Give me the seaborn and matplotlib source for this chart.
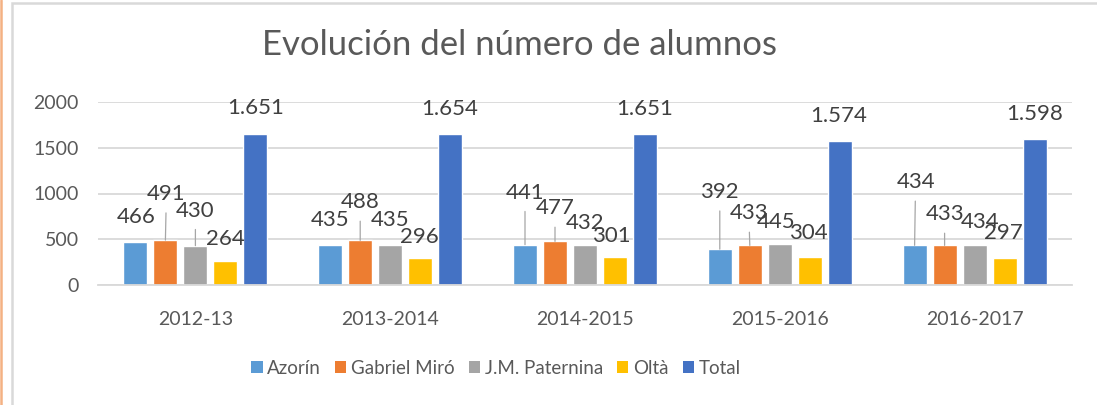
"""Bar chart: evolución del número de alumnos por centro y curso."""

import matplotlib

matplotlib.use("Agg")
import pandas as pd
import seaborn as sns
from matplotlib import pyplot as plt
from matplotlib.lines import Line2D
from matplotlib.patches import Patch, Rectangle

# --- data -------------------------------------------------------------------
cursos = ["2012-13", "2013-2014", "2014-2015", "2015-2016", "2016-2017"]
centros = ["Azorín", "Gabriel Miró", "J.M. Paternina", "Oltà", "Total"]
azorin = [466, 435, 441, 392, 434]
gabriel_miro = [491, 488, 477, 433, 433]
paternina = [430, 435, 432, 445, 434]
olta = [264, 296, 301, 304, 297]
total = [1651, 1654, 1651, 1574, 1598]
y_ticks = [0, 500, 1000, 1500, 2000]

# --- style ------------------------------------------------------------------
COLORS = ["#5B9BD5", "#ED7D31", "#A5A5A5", "#FFC000", "#4472C4"]
TEXT = "#595959"
LABEL = "#404040"
GRID = "#D9D9D9"

# label offsets (dx, dy) in pixels from each bar top, per centre / per curso
LABEL_OFFSETS = [
    [(1, 25), (0, 25), (0, 52), (0, 57), (1, 63)],
    [(1, 46), (0, 38), (0, 33), (-1, 32), (0, 31)],
    [(0, 35), (0, 25), (0, 22), (-4, 22), (5, 23)],
    [(0, 22), (-1, 21), (-4, 21), (-1, 24), (-1, 25)],
    [(0, 26), (-1, 25), (0, 25), (-1, 25), (0, 25)],
]

sns.set_theme(style="white")
plt.rcParams["font.family"] = ["Lato", "DejaVu Sans"]

W, H = 1097, 405
fig = plt.figure(figsize=(W / 100, H / 100), dpi=100)
ax = fig.add_axes([98 / W, 1 - 285 / H, (1072 - 98) / W, (285 - 102) / H])

df = pd.DataFrame(
    {
        "curso": cursos * len(centros),
        "centro": [c for c in centros for _ in cursos],
        "alumnos": azorin + gabriel_miro + paternina + olta + total,
    }
)

sns.barplot(
    data=df,
    x="curso",
    y="alumnos",
    hue="centro",
    hue_order=centros,
    order=cursos,
    palette=COLORS,
    width=0.77,
    gap=0.2,
    saturation=1,
    legend=False,
    ax=ax,
)

ax.set_ylim(0, 2000)
ax.set_yticks(y_ticks)
ax.set_yticklabels([str(t) for t in y_ticks])
ax.yaxis.grid(True, color=GRID, linewidth=1.3)
ax.set_axisbelow(True)
for side in ("left", "right", "top"):
    ax.spines[side].set_visible(False)
ax.spines["bottom"].set_color(GRID)
ax.spines["bottom"].set_linewidth(1.3)
ax.tick_params(axis="y", length=0, pad=14, labelsize=14, labelcolor=TEXT)
ax.tick_params(axis="x", length=0, pad=19, labelsize=14, labelcolor=TEXT)
ax.set_xlabel("")
ax.set_ylabel("")


def fmt(v):
    return f"{v:,}".replace(",", ".")


for i, container in enumerate(ax.containers):
    for j, bar in enumerate(container):
        xc = bar.get_x() + bar.get_width() / 2
        top = bar.get_height()
        dx, dy = LABEL_OFFSETS[i][j]
        arrow = None
        if dy >= 30:
            arrow = dict(arrowstyle="-", color="#A6A6A6", lw=0.9, shrinkA=4, shrinkB=0)
        ax.annotate(
            fmt(int(top)),
            xy=(xc, top),
            xytext=(dx, dy),
            textcoords="offset pixels",
            ha="center",
            va="center",
            fontsize=16,
            color=LABEL,
            arrowprops=arrow,
        )

fig.text(520 / W, 1 - 45 / H, "Evolución del número de alumnos", ha="center", va="center",
         fontsize=25, color=TEXT)

handles = [Patch(facecolor=c, edgecolor="none") for c in COLORS]
fig.legend(
    handles,
    centros,
    loc="center",
    bbox_to_anchor=(496 / W, 1 - 368 / H),
    ncol=len(centros),
    frameon=False,
    fontsize=13.5,
    handlelength=0.6,
    handleheight=0.6,
    handletextpad=0.25,
    columnspacing=0.75,
    labelcolor=TEXT,
)

# chart frame and the orange strip on the left
fig.add_artist(Rectangle((11.5 / W, -0.1), 1.2, 1.1 - 3 / H, transform=fig.transFigure,
                         fill=False, edgecolor=GRID, linewidth=1.8))
fig.add_artist(Line2D([1 / W, 1 / W], [0, 1], transform=fig.transFigure, color="#F4B183",
                      linewidth=1.8))

fig.savefig("out.png", dpi=100)
